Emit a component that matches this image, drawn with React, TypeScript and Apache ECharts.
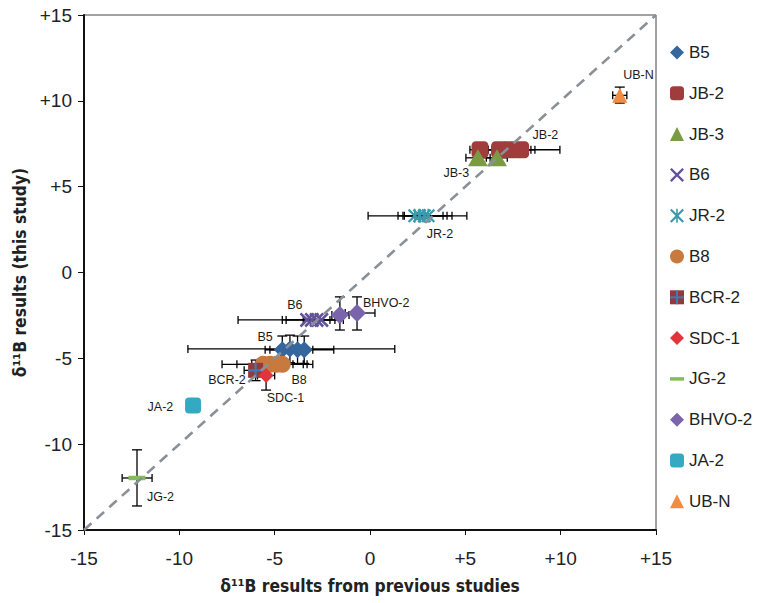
import React, { useEffect, useRef } from "react";
import * as echarts from "echarts";

// Each point: [x (previous studies), y (this study), xLow, xHigh, yLow, yHigh]
const B5 = [
  [-4.6, -4.5, -5.5, -3.7, -5.3, -3.7],
  [-4.2, -4.45, -9.55, 1.3, -5.25, -3.65],
  [-3.8, -4.5, -5.25, -1.9, -5.3, -3.7],
  [-3.45, -4.5, -4.8, -3.0, -5.3, -3.7],
];
const JB2 = [
  [5.77, 7.15, 5.24, 6.4, 7.15, 7.15],
  [6.8, 7.15, 6.2, 8.44, 7.15, 7.15],
  [7.35, 7.15, 6.5, 8.65, 7.15, 7.15],
  [7.9, 7.15, 5.9, 9.96, 7.15, 7.15],
];
const JB3 = [
  [5.66, 6.68, 5.03, 6.3, 6.68, 6.68],
  [6.66, 6.68, 6.1, 7.2, 6.68, 6.68],
];
const B6 = [
  [-3.3, -2.76, -4.6, -2.1, -2.76, -2.76],
  [-3.05, -2.76, -6.92, -1.84, -2.76, -2.76],
  [-2.8, -2.76, -4.4, -1.4, -2.76, -2.76],
  [-2.55, -2.76, -3.5, -1.6, -2.76, -2.76],
];
const JR2 = [
  [2.35, 3.3, 1.47, 3.83, 3.3, 3.3],
  [2.6, 3.3, -0.1, 5.08, 3.3, 3.3],
  [2.85, 3.3, 1.73, 4.04, 3.3, 3.3],
  [3.05, 3.3, 1.8, 4.3, 3.3, 3.3],
];
const B8 = [
  [-5.6, -5.35, -6.98, -4.04, -5.35, -5.35],
  [-5.25, -5.35, -7.76, -3.5, -5.35, -5.35],
  [-4.9, -5.35, -6.2, -3.0, -5.35, -5.35],
  [-4.6, -5.35, -5.8, -3.3, -5.35, -5.35],
];
const BCR2 = [[-6.0, -5.7, -6.6, -5.4, -6.3, -5.1]];
const SDC1 = [[-5.45, -6.0, -5.9, -5.0, -6.85, -5.2]];
const JG2 = [[-12.22, -11.97, -13.0, -11.43, -13.6, -10.33]];
const BHVO2 = [
  [-1.58, -2.47, -2.0, -1.1, -3.35, -1.42],
  [-0.68, -2.36, -1.3, 0.26, -3.35, -1.42],
];
const JA2 = [[-9.28, -7.75, -9.55, -9.0, -8.1, -7.4]];
const UBN = [[13.1, 10.32, 12.73, 13.47, 9.87, 10.8]];

// Sample labels placed in data coordinates: [text, x, y]
const sampleLabels: [string, number, number][] = [
  ["UB-N", 14.08, 11.5],
  ["JB-2", 9.2, 8.01],
  ["JB-3", 4.53, 5.8],
  ["JR-2", 3.67, 2.25],
  ["B6", -3.94, -1.89],
  ["BHVO-2", 0.85, -1.77],
  ["B5", -5.5, -3.75],
  ["BCR-2", -7.5, -6.26],
  ["B8", -3.72, -6.26],
  ["SDC-1", -4.43, -7.31],
  ["JA-2", -10.99, -7.83],
  ["JG-2", -10.99, -13.07],
];

const axisMin = -15;
const axisMax = 15;
const axisStep = 5;

const legendNames = ["B5", "JB-2", "JB-3", "B6", "JR-2", "B8", "BCR-2", "SDC-1", "JG-2", "BHVO-2", "JA-2", "UB-N"];

const X_PATH = "path://M0,1.2L1.2,0L5,3.8L8.8,0L10,1.2L6.2,5L10,8.8L8.8,10L5,6.2L1.2,10L0,8.8L3.8,5Z";
const AST_PATH =
  "path://M0,1.1L1.1,0L5,3.9L8.9,0L10,1.1L6.1,5L10,8.9L8.9,10L5,6.1L1.1,10L0,8.9L3.9,5Z M4.45,0L5.55,0L5.55,10L4.45,10Z";
const PLUS_PATH = "path://M4.3,0L5.7,0L5.7,4.3L10,4.3L10,5.7L5.7,5.7L5.7,10L4.3,10L4.3,5.7L0,5.7L0,4.3L4.3,4.3Z";
const DASH_PATH = "path://M0,0L16,0L16,4L0,4Z";

const LEG_LEFT = 670;
const LEG_TOP = 44;
const LEG_ICON = 14;
const LEG_FONT = 17;
const LEG_GAP = 23.8;

const FONT = "'Liberation Sans', Arial, Helvetica, sans-serif";
const NAME_FONT = "'Liberation Sans Narrow', 'DejaVu Sans Condensed', 'Liberation Sans', sans-serif";

function pts(a: number[][]) {
  return a.map((p) => [p[0], p[1]]);
}

function scatter(name: string, data: number[][], symbol: string, size: any, color: string, extra: any = {}) {
  return {
    type: "scatter",
    name,
    data: pts(data),
    symbol,
    symbolSize: size,
    itemStyle: { color, opacity: 1 },
    z: 3,
    emphasis: { disabled: true },
    ...extra,
  };
}

export default function App() {
  const ref = useRef<HTMLDivElement>(null);
  useEffect(() => {
    if (!ref.current) return;
    const chart = echarts.init(ref.current, undefined, { renderer: "svg" });
    const errorData = [...B5, ...JB2, ...JB3, ...B6, ...JR2, ...B8, ...BCR2, ...SDC1, ...JG2, ...BHVO2, ...JA2, ...UBN];
    const fmt = (v: number) => (v > 0 ? `+${v}` : `${v}`);
    const bcrLegendY = LEG_TOP + 6 * (LEG_FONT + LEG_GAP) + LEG_FONT / 2;
    const bcrLegendX = LEG_LEFT + LEG_ICON / 2;

    chart.setOption({
      animation: false,
      backgroundColor: "#ffffff",
      grid: {
        left: 84,
        right: 107,
        top: 15,
        bottom: 73,
        show: true,
        borderColor: "#444",
        borderWidth: 1,
      },
      legend: {
        orient: "vertical",
        left: LEG_LEFT,
        top: LEG_TOP,
        padding: 0,
        itemWidth: LEG_ICON,
        itemHeight: LEG_ICON,
        itemGap: LEG_GAP,
        textStyle: { fontSize: LEG_FONT, color: "#222", fontFamily: FONT },
        data: legendNames.map((n) => (n === "JG-2" ? { name: n, icon: DASH_PATH } : n)),
        selectedMode: false,
      },
      xAxis: {
        type: "value",
        min: axisMin,
        max: axisMax,
        interval: axisStep,
        name: "δ¹¹B results from previous studies",
        nameLocation: "middle",
        nameGap: 47,
        nameTextStyle: { fontSize: 17.3, fontWeight: "bold", color: "#222", fontFamily: NAME_FONT },
        axisLine: { show: true, onZero: false, lineStyle: { color: "#111", width: 2 } },
        axisTick: { show: true, length: 5, lineStyle: { color: "#111", width: 1 } },
        axisLabel: { formatter: fmt, fontSize: 19, color: "#222", margin: 19, fontFamily: FONT },
        splitLine: { show: false },
      },
      yAxis: {
        type: "value",
        min: axisMin,
        max: axisMax,
        interval: axisStep,
        name: "δ¹¹B results (this study)",
        nameLocation: "middle",
        nameGap: 46,
        nameTextStyle: { fontSize: 17.3, fontWeight: "bold", color: "#222", fontFamily: NAME_FONT },
        axisLine: { show: true, onZero: false, lineStyle: { color: "#111", width: 2 } },
        axisTick: { show: true, length: 6, lineStyle: { color: "#111", width: 1 } },
        axisLabel: { formatter: fmt, fontSize: 19, color: "#222", margin: 12, fontFamily: FONT },
        splitLine: { show: false },
      },
      graphic: {
        elements: [
          {
            type: "rect",
            z: 100,
            silent: true,
            shape: { x: bcrLegendX - 7, y: bcrLegendY - 1, width: 14, height: 2 },
            style: { fill: "#3f7ab8" },
          },
          {
            type: "rect",
            z: 100,
            silent: true,
            shape: { x: bcrLegendX - 1, y: bcrLegendY - 7, width: 2, height: 14 },
            style: { fill: "#3f7ab8" },
          },
        ],
      },
      series: [
        {
          type: "custom",
          name: "errors",
          data: errorData,
          encode: { x: 0, y: 1 },
          z: 2,
          silent: true,
          renderItem: (params: any, api: any) => {
            const x = api.value(0);
            const y = api.value(1);
            const xLo = api.value(2);
            const xHi = api.value(3);
            const yLo = api.value(4);
            const yHi = api.value(5);
            const style = { stroke: "#000", lineWidth: 1.3 };
            const children: any[] = [];
            if (xHi > xLo) {
              const a = api.coord([xLo, y]);
              const b = api.coord([xHi, y]);
              children.push({ type: "line", shape: { x1: a[0], y1: a[1], x2: b[0], y2: b[1] }, style });
              children.push({ type: "line", shape: { x1: a[0], y1: a[1] - 4, x2: a[0], y2: a[1] + 4 }, style });
              children.push({ type: "line", shape: { x1: b[0], y1: b[1] - 4, x2: b[0], y2: b[1] + 4 }, style });
            }
            if (yHi > yLo) {
              const a = api.coord([x, yLo]);
              const b = api.coord([x, yHi]);
              children.push({ type: "line", shape: { x1: a[0], y1: a[1], x2: b[0], y2: b[1] }, style });
              children.push({ type: "line", shape: { x1: a[0] - 5, y1: a[1], x2: a[0] + 5, y2: a[1] }, style });
              children.push({ type: "line", shape: { x1: b[0] - 5, y1: b[1], x2: b[0] + 5, y2: b[1] }, style });
            }
            return { type: "group", children };
          },
        },
        scatter("B5", B5, "diamond", 17, "#35679e"),
        scatter("JB-2", JB2, "roundRect", 17, "#a03c3c"),
        scatter("JB-3", JB3, "triangle", [20, 17], "#7a9a43"),
        scatter("B6", B6, X_PATH, 15, "#62529a"),
        scatter("JR-2", JR2, AST_PATH, 14, "#3c98ab"),
        scatter("B8", B8, "circle", 17, "#c8793d"),
        scatter("BCR-2", BCR2, "rect", 15, "#953a3a"),
        scatter("BCR-2 cross", BCR2, PLUS_PATH, 15, "#3f7ab8", { z: 3 }),
        scatter("SDC-1", SDC1, "diamond", 15, "#e0353a"),
        scatter("JG-2", JG2, "rect", [17, 4.5], "#86bc58", { z: 3.5 }),
        scatter("BHVO-2", BHVO2, "diamond", 18, "#7a64ab"),
        scatter("JA-2", JA2, "roundRect", 16, "#35a9c3"),
        scatter("UB-N", UBN, "triangle", [15, 15], "#f28c43"),
        {
          type: "line",
          name: "1:1",
          data: [
            [axisMin, axisMin],
            [axisMax, axisMax],
          ],
          symbol: "none",
          z: 4,
          silent: true,
          lineStyle: { color: "#8a9097", width: 2.6, type: [10, 7] },
        },
        {
          type: "scatter",
          name: "labels",
          z: 5,
          silent: true,
          symbolSize: 1,
          itemStyle: { color: "rgba(255,255,255,0)", opacity: 1 },
          data: sampleLabels.map(([n, x, y]) => ({ name: n, value: [x, y] })),
          label: {
            show: true,
            position: "inside",
            formatter: "{b}",
            fontSize: 12.5,
            color: "#1a1a1a",
            opacity: 1,
            textBorderWidth: 0,
            fontFamily: FONT,
          },
        },
      ],
    });
    return () => chart.dispose();
  }, []);
  return <div ref={ref} style={{ position: "absolute", left: 0, top: 0, width: 763, height: 603 }} />;
}
